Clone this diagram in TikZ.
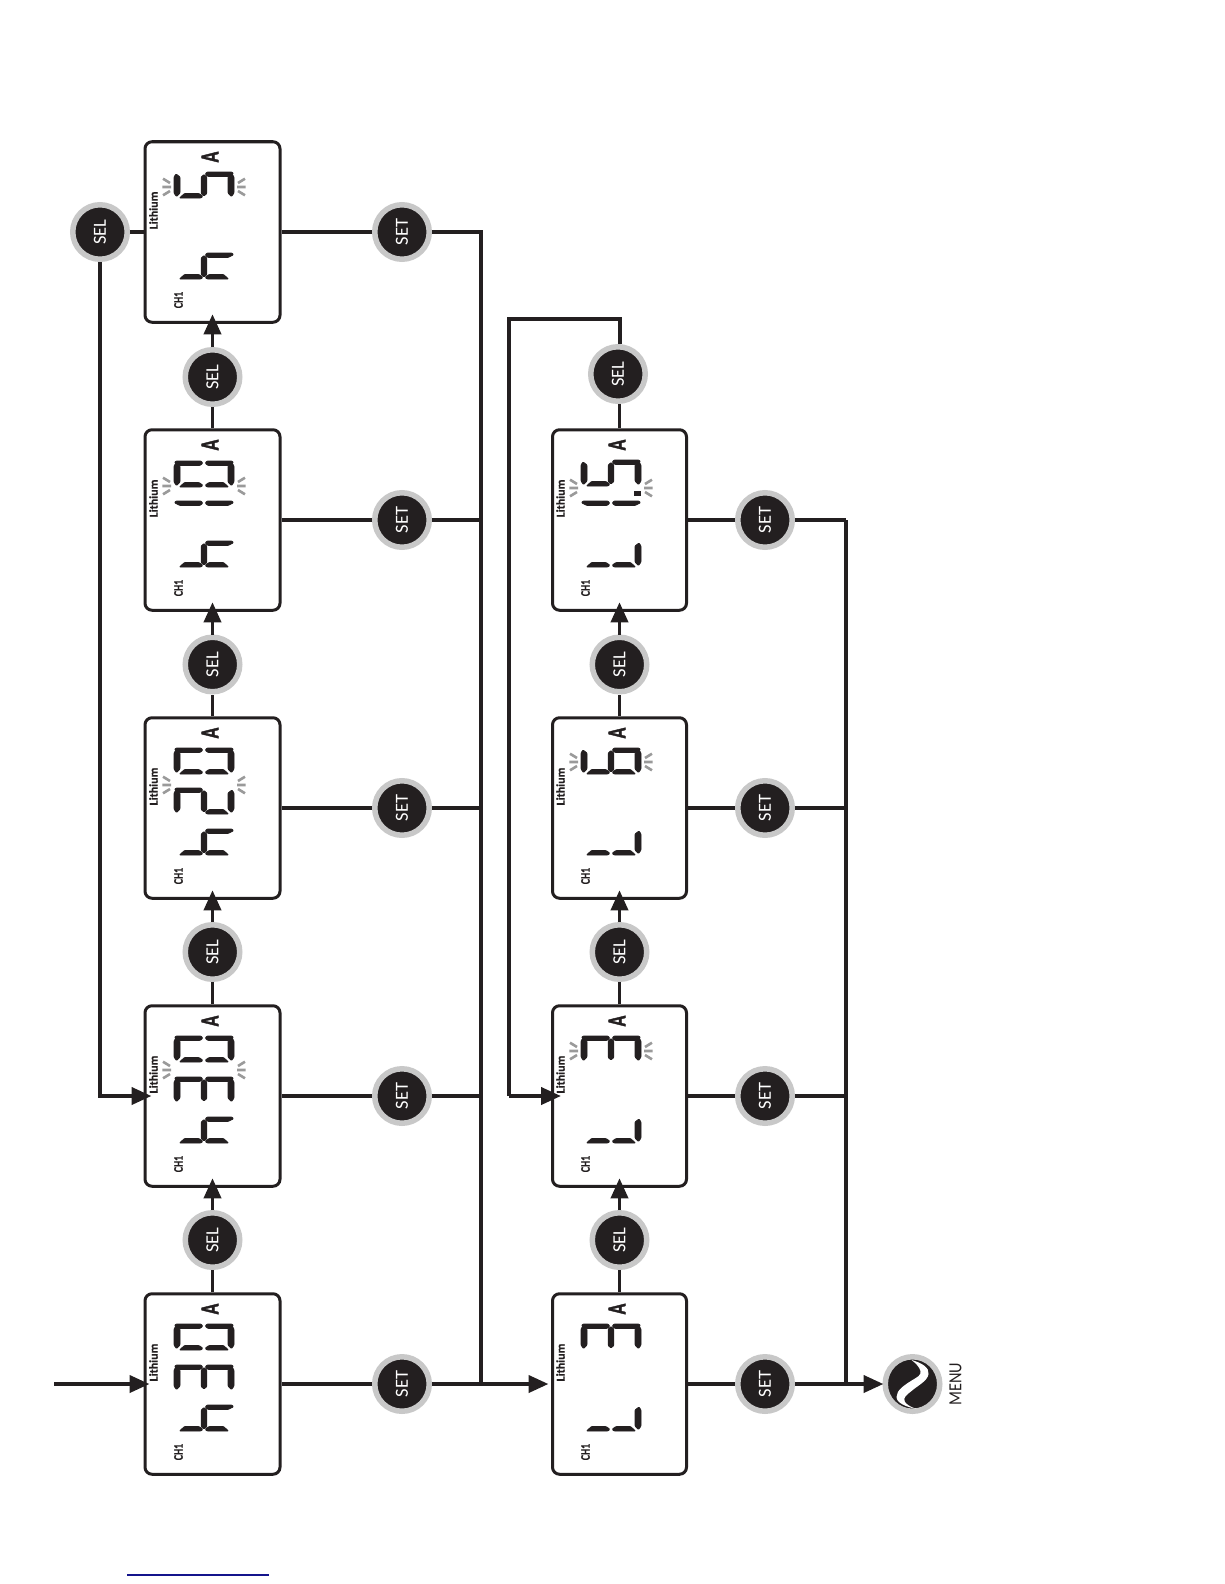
\documentclass[tikz,border=0pt]{standalone}
\usepackage{fontspec}
\usepackage{graphicx}
\setmainfont{Carlito}
\newfontfamily\heavyfont[BoldFeatures={FakeBold=2}]{Carlito}
\newfontfamily\smallheavy[BoldFeatures={FakeBold=0.6}]{Carlito}
\usetikzlibrary{arrows.meta}
\definecolor{ink}{HTML}{231F20}
\definecolor{ring}{HTML}{C8C8C8}
\definecolor{tick}{HTML}{9A9A9A}
\definecolor{rule}{HTML}{14148C}
\tikzset{
  lcdframe/.style={draw=ink,line width=3pt,rounded corners=7pt,fill=white,minimum height=180.5pt,inner sep=0pt},
  btn/.style={circle,fill=ink,draw=ring,line width=5.5pt,minimum size=54.5pt,inner sep=0pt,text=white,font=\fontsize{18.5}{18.5}\selectfont},
  lab/.style={rotate=90,inner sep=0pt,text=ink},
  heavy/.style={draw=ink,line width=4pt},
  mid/.style={draw=ink,line width=3.6pt},
  light/.style={draw=ink,line width=3.2pt},
  tipped/.style={-{Triangle[length=20pt,width=17pt]}},
  seg/.style={fill=ink,draw=ink,line width=0.8pt,rounded corners=0.8pt},
  tickmark/.style={draw=tick,line width=2.6pt}
}
% seven-segment parts, digit turned a quarter turn anticlockwise
\newcommand\lcdsega{\path[seg] (-30,5)--(-28,2)--(-24,5)--(-24,21)--(-27.5,24.5)--(-30,21)--cycle;}
\newcommand\lcdsegd{\path[seg] (30,5)--(28,2)--(24,5)--(24,21)--(27.5,24.5)--(30,21)--cycle;}
\newcommand\lcdsegb{\path[seg] (-28,0)--(-3,0)--(-1.2,2.2)--(-4,4.5)--(-24,4.5)--(-29.5,1.8)--cycle;}
\newcommand\lcdsegc{\path[seg] (28,0)--(3,0)--(1.2,2.2)--(4,4.5)--(24,4.5)--(29.5,1.8)--cycle;}
\newcommand\lcdsegf{\path[seg] (-24.5,26)--(-3,26)--(-1.2,24.2)--(-5,21.5)--(-19.5,21.5)--cycle;}
\newcommand\lcdsege{\path[seg] (24.5,26)--(3,26)--(1.2,24.2)--(5,21.5)--(19.5,21.5)--cycle;}
\newcommand\lcdsegg{\path[seg] (-2.8,5)--(0,2.6)--(2.8,5)--(2.8,21.5)--(0,24)--(-2.8,21.5)--cycle;}
\newcommand\lcddigit[3]{\begin{scope}[shift={(#1,#2)}]\foreach \s in {#3}{\csname lcdseg\s\endcsname}\end{scope}}
\newcommand\lcdticks[2]{\begin{scope}[shift={(#1,#2)}]
  \draw[tickmark] (-41,-8.3)--(-34,-4) (-41.7,0)--(-33,0) (-41,8.3)--(-34,4);
  \draw[tickmark] (41,-8.3)--(34,-4) (41.7,0)--(33,0) (41,8.3)--(34,4);
\end{scope}}
\newcommand\lcdframe[3]{%
  \node[lcdframe,minimum width=#3] (#1) at (#2) {};
  \node[lab,font=\smallheavy\bfseries\fontsize{12}{12}\selectfont] (#1li) at ([shift={(-59,-21.5)}]#1.center) {Lithium};
  \node[lab,font=\smallheavy\bfseries\fontsize{13}{13}\selectfont] (#1ch) at ([shift={(-34,68)}]#1.center) {\scalebox{.75}[1]{CH1}};
  \node[lab,font=\heavyfont\bfseries\fontsize{26}{26}\selectfont] (#1am) at ([shift={(-2.5,-75)}]#1.center) {\scalebox{.68}[1]{A}};
}
\begin{document}
\begin{tikzpicture}[x=1pt,y=-1pt]
\useasboundingbox (0,0) rectangle (1224,1584);
% displays, left column
\lcdframe{la}{212.5,1384}{135pt}
\lcdframe{lb}{212.5,1096}{135pt}
\lcdframe{lc}{212.5,808}{135pt}
\lcdframe{ld}{212.5,520}{135pt}
\lcdframe{le}{212.5,232}{135pt}
% displays, right column
\lcdframe{ra}{619.5,1384}{134pt}
\lcdframe{rb}{619.5,1096}{134pt}
\lcdframe{rc}{619.5,808}{134pt}
\lcdframe{rd}{619.5,520}{134pt}
% digits
\lcddigit{204}{1324}{a,b,c,d,e,f}\lcddigit{204}{1365}{a,b,c,d,g}\lcddigit{204}{1405}{c,e,f,g}
\lcddigit{204}{1036}{a,b,c,d,e,f}\lcddigit{204}{1077}{a,b,c,d,g}\lcddigit{204}{1117}{c,e,f,g}\lcdticks{204}{1070}
\lcddigit{204}{748}{a,b,c,d,e,f}\lcddigit{204}{788}{a,b,d,e,g}\lcddigit{204}{829}{c,e,f,g}\lcdticks{204}{785}
\lcddigit{204}{461}{a,b,c,d,e,f}\lcddigit{204}{501}{b,c}\lcddigit{204}{541}{c,e,f,g}\lcdticks{204}{486}
\lcddigit{204}{172}{a,c,d,f,g}\lcddigit{204}{253}{c,e,f,g}\lcdticks{204}{187}
\lcddigit{611}{1324}{a,b,c,d,g}\lcddigit{611}{1405}{d,e,f}
\lcddigit{611}{1036}{a,b,c,d,g}\lcddigit{611}{1117}{d,e,f}\lcdticks{611}{1051}
\lcddigit{611}{748}{a,c,d,e,f,g}\lcddigit{611}{829}{d,e,f}\lcdticks{611}{762}
\lcddigit{611}{460}{a,c,d,f,g}\lcddigit{611}{501}{b,c}\lcddigit{611}{541}{d,e,f}\lcdticks{611}{488}
\fill[ink] (634,491) rectangle (641,496);
% buttons
\node[btn] (sa) at (212.5,1240) {\rotatebox{90}{SEL}};
\node[btn] (sb) at (212.5,952) {\rotatebox{90}{SEL}};
\node[btn] (sc) at (212.5,664.5) {\rotatebox{90}{SEL}};
\node[btn] (sd) at (212.5,377) {\rotatebox{90}{SEL}};
\node[btn] (se) at (100,232) {\rotatebox{90}{SEL}};
\node[btn] (sf) at (619.5,1240) {\rotatebox{90}{SEL}};
\node[btn] (sg) at (619.5,952) {\rotatebox{90}{SEL}};
\node[btn] (sh) at (619.5,664.5) {\rotatebox{90}{SEL}};
\node[btn] (si) at (618,374) {\rotatebox{90}{SEL}};
\node[btn] (ta) at (402,1384) {\rotatebox{90}{SET}};
\node[btn] (tb) at (402,1096) {\rotatebox{90}{SET}};
\node[btn] (tc) at (402,808) {\rotatebox{90}{SET}};
\node[btn] (td) at (402,520) {\rotatebox{90}{SET}};
\node[btn] (te) at (402,232) {\rotatebox{90}{SET}};
\node[btn] (tf) at (765,1384) {\rotatebox{90}{SET}};
\node[btn] (tg) at (765,1096) {\rotatebox{90}{SET}};
\node[btn] (th) at (765,808) {\rotatebox{90}{SET}};
\node[btn] (ti) at (765,520) {\rotatebox{90}{SET}};
\node[btn] (mn) at (912.5,1384) {};
\fill[white,shift={(912.5,1384)}] (-1,-24) .. controls (10,-21) and (17,-16) .. (16,-10) .. controls (15,-3) and (6,1) .. (-1,7) .. controls (-6,11) and (-9,13) .. (-8,17) .. controls (-7,20) and (-2,23) .. (4,25) .. controls (-6,23) and (-16,19) .. (-16,13) .. controls (-16,6) and (-8,1) .. (0,-4) .. controls (5,-7) and (9,-9) .. (8,-13) .. controls (7,-17) and (3,-21) .. (-1,-24) -- cycle;
\node[lab,font=\fontsize{18.5}{18.5}\selectfont] (mt) at (955.5,1384) {\scalebox{.88}[1]{MENU}};
% free ends and bus corners
\coordinate (start) at (54,1384);
\coordinate (busatop) at (481,232);
\coordinate (busabot) at (481,1384);
\coordinate (busbtop) at (846,520);
\coordinate (busbbot) at (846,1384);
\coordinate (loop) at (509,319);
% connectors
\draw[heavy,tipped,shorten >=-6pt] (start) -- (la.west);
\draw[mid] (la.north) -- (sa.south);
\draw[mid,tipped,shorten >=-9.5pt] (sa.north) -- (lb.south);
\draw[mid] (lb.north) -- (sb.south);
\draw[mid,tipped,shorten >=-9.5pt] (sb.north) -- (lc.south);
\draw[mid] (lc.north) -- (sc.south);
\draw[mid,tipped,shorten >=-9.5pt] (sc.north) -- (ld.south);
\draw[mid] (ld.north) -- (sd.south);
\draw[mid,tipped,shorten >=-9.5pt] (sd.north) -- (le.south);
\draw[heavy] (se.east) -- (le.west);
\draw[heavy,tipped,shorten >=-8pt] (se.south) |- (lb.west);
\draw[heavy] (la.east) -- (ta.west);
\draw[light] (lb.east) -- (tb.west);
\draw[mid] (lc.east) -- (tc.west);
\draw[light] (ld.east) -- (td.west);
\draw[heavy] (le.east) -- (te.west);
\draw[heavy] (te.east) -- (busatop) -- (busabot);
\draw[light] (td.east) -- (td.east -| busatop);
\draw[mid] (tc.east) -- (tc.east -| busatop);
\draw[light] (tb.east) -- (tb.east -| busatop);
\draw[heavy,tipped,shorten >=2.5pt] (ta.east) -- (ra.west);
\draw[mid] (ra.north) -- (sf.south);
\draw[mid,tipped,shorten >=-9.5pt] (sf.north) -- (rb.south);
\draw[mid] (rb.north) -- (sg.south);
\draw[mid,tipped,shorten >=-9.5pt] (sg.north) -- (rc.south);
\draw[mid] (rc.north) -- (sh.south);
\draw[mid,tipped,shorten >=-9.5pt] (sh.north) -- (rd.south);
\draw[mid] (rd.north) -- (rd.north |- si.south);
\draw[heavy] (rd.north |- si.north) -- (rd.north |- loop) -- (loop) -- (loop |- rb.west);
\draw[heavy,tipped,shorten >=-10pt] (loop |- rb.west) -- (rb.west);
\draw[heavy] (ra.east) -- (tf.west);
\draw[light] (rb.east) -- (tg.west);
\draw[mid] (rc.east) -- (th.west);
\draw[light] (rd.east) -- (ti.west);
\draw[light] (ti.east) -- (busbtop);
\draw[heavy] (busbtop) -- (busbbot);
\draw[mid] (th.east) -- (th.east -| busbtop);
\draw[light] (tg.east) -- (tg.east -| busbtop);
\draw[heavy,tipped,shorten >=-1pt] (tf.east) -- (mn.west);
% rule at the foot of the page
\draw[rule,line width=1.5pt] (127,1575) -- (269,1575);
\end{tikzpicture}
\end{document}
